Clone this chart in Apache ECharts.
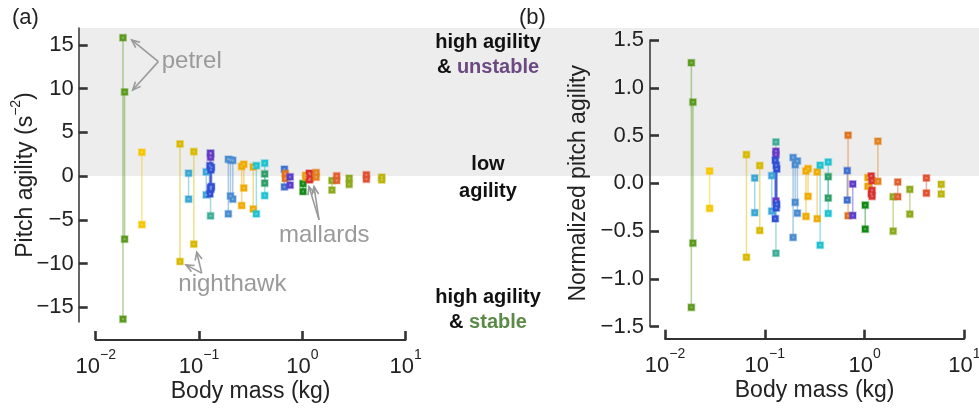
<!DOCTYPE html>
<html>
<head>
<meta charset="utf-8">
<script src="https://cdn.jsdelivr.net/npm/echarts@6/dist/echarts.min.js"></script>
<style>
  html, body { margin: 0; padding: 0; background: #fff; }
  #chart { width: 979px; height: 410px; }
</style>
</head>
<body>
<div id="chart"></div>
<script>
// Body mass of each bird group (kg)
const massKg = [0.01837, 0.01905, 0.0280, 0.0655, 0.0891, 0.0793, 0.1175, 0.1294, 0.1294, 0.1274,
  0.1303, 0.1318, 0.1923, 0.2018, 0.2123, 0.2588, 0.2716, 0.335, 0.359, 0.4325,
  0.4325, 0.671, 0.684, 0.762, 1.016, 1.081, 1.167, 1.19, 1.361, 1.936,
  2.153, 2.844, 4.17, 5.875];

// Pitch agility (s^-2) for the configurations of each group
const pitchAgility = [
  [15.84, -16.37], [9.63, -7.22], [2.73, -5.55], [3.68, -9.78], [2.80, -7.79],
  [0.33, -2.64], [0.48, -2.15], [2.6, -4.55], [2.62, 2.16, -1.3], [1.20, -2.04],
  [0.71, -1.50], [1.0, -1.2], [1.93, -4.32], [1.85, -2.28], [1.80, -2.64],
  [1.11, -3.37], [1.36, -1.37], [1.05, -3.77], [1.20, -4.32], [0.25, -0.81],
  [1.48, -2.23], [0.79, -1.24], [0.30, -0.28], [-0.09, -1.04], [-0.86, -1.77],
  [0.10, -0.15], [0.33, -0.43], [0.20, -0.30], [0.40, -0.13], [-0.51, -1.60],
  [0.02, -0.51], [-0.25, -0.95], [0.14, -0.35], [-0.13, -0.43]
];

// Normalized pitch agility for the same configurations
const normAgility = [
  [1.262, -1.298], [0.85, -0.626], [0.129, -0.262], [0.301, -0.773], [0.186, -0.493],
  [0.056, -0.307], [0.081, -0.291], [0.433, -0.731], [0.336, 0.301, -0.184], [0.241, -0.370],
  [0.189, -0.257], [0.150, -0.22], [0.270, -0.566], [0.196, -0.199], [0.234, -0.312],
  [0.129, -0.346], [0.154, -0.136], [0.119, -0.370], [0.189, -0.647], [0.070, -0.154],
  [0.223, -0.315], [0.133, -0.175], [0.504, -0.339], [-0.007, -0.336], [-0.228, -0.479],
  [0.060, -0.031], [0.077, -0.108], [0.028, -0.073, -0.136], [0.441, 0.021], [-0.140, -0.500],
  [0.014, -0.140], [-0.063, -0.322], [0.056, -0.102], [-0.010, -0.112]
];

// One colour per group
const groupColors = ['#5b9a1e', '#5b9a1e', '#f7c600', '#d8b900', '#d8b900',
  '#38a8d4', '#3ca6dc', '#3fae98', '#6638c8', '#3050d4',
  '#3050d4', '#3050d4', '#4a8cd0', '#4a8cd0', '#4a8cd0',
  '#f0aa00', '#f0aa00', '#eeac0a', '#20c2d2', '#2e9e68',
  '#20c2d2', '#3f6fd0', '#e0721e', '#5b3fcb', '#118a14',
  '#e8a208', '#d83232', '#d83232', '#e2821e', '#8daa1c',
  '#e06030', '#8daa1c', '#e0502e', '#bdb50c'];

const massTicks = [0.01, 0.1, 1, 10];
const rawTicks = [-15, -10, -5, 0, 5, 10, 15];
const rawRange = [-16.7, 16.95];
const normRange = [-1.5, 1.5];

// Annotation anchors in data units of the left panel: label position, arrow start, arrow tips
const annotations = [
  { text: 'petrel', label: [0.0436, 13.1], from: [0.0404, 13.1], tips: [[0.0223, 15.58], [0.0228, 9.86]] },
  { text: 'nighthawk', label: [0.0631, -12.44], from: [0.1062, -11.11], tips: [[0.0748, -10.16], [0.0951, -8.70]] },
  { text: 'mallards', label: [0.594, -6.73], from: [1.451, -5.01], tips: [[1.161, -1.20], [1.298, -1.20]] }
];

const FONT = '"Liberation Sans", Arial, Helvetica, sans-serif';
const INK = '#222';
const AXIS = '#333';

function minus(s) { return String(s).replace('-', '\u2212'); }
function rgba(hex, a) {
  const n = parseInt(hex.slice(1), 16);
  return 'rgba(' + (n >> 16 & 255) + ',' + (n >> 8 & 255) + ',' + (n & 255) + ',' + a + ')';
}

const powLabel = {
  formatter: v => '{b|10}{s|' + minus(Math.round(Math.log10(v))) + '}',
  rich: {
    b: { fontFamily: FONT, fontSize: 22, color: INK, lineHeight: 30, verticalAlign: 'bottom' },
    s: { fontFamily: FONT, fontSize: 14, color: INK, lineHeight: 14, verticalAlign: 'top' }
  }
};

function xAxisFor(gridIndex, offset) {
  return {
    type: 'log', logBase: 10, gridIndex, min: 0.01, max: 10, offset, position: 'bottom',
    axisLine: { show: true, onZero: false, lineStyle: { color: AXIS, width: 1.8 } },
    axisTick: { show: true, inside: true, length: 9, lineStyle: { color: AXIS, width: 2.6 } },
    minorTick: { show: false },
    splitLine: { show: false },
    axisLabel: Object.assign({ margin: 8, color: INK }, powLabel),
    name: 'Body mass (kg)', nameLocation: 'middle', nameGap: 40, nameMoveOverlap: false,
    nameTextStyle: { fontFamily: FONT, fontSize: 23, color: INK }
  };
}

const series = [];
function addPanel(values, axisIndex) {
  values.forEach((vals, i) => {
    const c = groupColors[i];
    const pts = vals.map(v => [massKg[i], v]).sort((a, b) => b[1] - a[1]);
    const thick = (c === '#6638c8' || c === '#3050d4');
    series.push({
      type: 'line', xAxisIndex: axisIndex, yAxisIndex: axisIndex, data: pts,
      symbol: 'rect', symbolSize: 6.5, showSymbol: true, animation: false,
      lineStyle: { color: c, width: thick ? 2.2 : 1.5, opacity: 0.45 },
      itemStyle: { color: c, borderColor: rgba(c, 0.35), borderWidth: 1.6 },
      emphasis: { disabled: true }, silent: true, z: 3
    });
    series.push({
      type: 'scatter', xAxisIndex: axisIndex, yAxisIndex: axisIndex, data: pts,
      symbol: 'rect', symbolSize: 2, animation: false,
      itemStyle: { color: 'rgba(255,255,255,0.35)' }, silent: true, z: 4
    });
  });
}
addPanel(pitchAgility, 0);
addPanel(normAgility, 1);

const option = {
  backgroundColor: '#fff',
  animation: false,
  grid: [
    { left: 95.7, top: 28, width: 309.9, height: 294, containLabel: false, outerBoundsMode: 'none' },
    { left: 665, top: 40, width: 299.3, height: 286.7, containLabel: false, outerBoundsMode: 'none' }
  ],
  xAxis: [xAxisFor(0, 18), xAxisFor(1, 12)],
  yAxis: [
    {
      type: 'value', gridIndex: 0, min: rawRange[0], max: rawRange[1], offset: 17, position: 'left',
      axisLine: { show: true, onZero: false, lineStyle: { color: AXIS, width: 1.5 } },
      axisTick: { show: true, inside: true, length: 9, lineStyle: { color: AXIS, width: 2.6 }, customValues: rawTicks },
      splitLine: { show: false },
      axisLabel: { customValues: rawTicks, formatter: v => minus(v), fontFamily: FONT, fontSize: 22, color: INK, margin: 5 },
      name: '{n|Pitch agility (s}{s|\u22122}{n|)}', nameLocation: 'middle', nameGap: 42, nameMoveOverlap: false,
      nameTextStyle: {
        fontFamily: FONT, fontSize: 23, color: INK,
        rich: {
          n: { fontFamily: FONT, fontSize: 23, color: INK, lineHeight: 28, verticalAlign: 'bottom' },
          s: { fontFamily: FONT, fontSize: 14, color: INK, lineHeight: 14, verticalAlign: 'top' }
        }
      }
    },
    {
      type: 'value', gridIndex: 1, min: normRange[0], max: normRange[1], interval: 0.5, offset: 15, position: 'left',
      axisLine: { show: true, onZero: false, lineStyle: { color: AXIS, width: 1.5 } },
      axisTick: { show: true, inside: true, length: 9, lineStyle: { color: AXIS, width: 2.6 } },
      splitLine: { show: false },
      axisLabel: { formatter: v => minus(v.toFixed(1)), fontFamily: FONT, fontSize: 22, color: INK, margin: 6 },
      name: 'Normalized pitch agility', nameLocation: 'middle', nameGap: 60, nameMoveOverlap: false,
      nameTextStyle: { fontFamily: FONT, fontSize: 23, color: INK }
    }
  ],
  series
};

const chart = echarts.init(document.getElementById('chart'));
chart.setOption(option);

// Overlays: shaded "unstable" band, region labels, panel letters and annotations
const toPx = (g, p) => chart.convertToPixel({ gridIndex: g }, p);
const zeroPx = toPx(0, [0.01, 0]);
const topPx = toPx(0, [0.01, rawRange[1]]);
const bandLeft = zeroPx[0] - 17;

const elements = [
  { type: 'rect', z: -10, silent: true,
    shape: { x: bandLeft, y: topPx[1], width: 979 - bandLeft, height: zeroPx[1] - topPx[1] },
    style: { fill: '#ededed' } }
];

function txt(x, y, text, size, weight, color, align, rich) {
  return { type: 'text', x, y, z: 10, silent: true,
    style: { text, fontFamily: FONT, fontSize: size, fontWeight: weight || 'normal', fill: color || INK,
      align: align || 'center', verticalAlign: 'middle', rich } };
}

const boldRich = col => ({
  k: { fontFamily: FONT, fontSize: 20, fontWeight: 'bold', fill: '#111' },
  c: { fontFamily: FONT, fontSize: 20, fontWeight: 'bold', fill: col }
});
elements.push(txt(488, 42, 'high agility', 20, 'bold', '#111'));
elements.push(txt(488, 67, '{k|& }{c|unstable}', 20, 'bold', '#111', 'center', boldRich('#6a4a80')));
elements.push(txt(488, 164, 'low', 20, 'bold', '#111'));
elements.push(txt(488, 191, 'agility', 20, 'bold', '#111'));
elements.push(txt(488, 297, 'high agility', 20, 'bold', '#111'));
elements.push(txt(488, 322, '{k|& }{c|stable}', 20, 'bold', '#111', 'center', boldRich('#5a8a46')));
elements.push(txt(12, 18, '(a)', 22, 'normal', INK, 'left'));
elements.push(txt(519, 18, '(b)', 22, 'normal', INK, 'left'));

const GREY = '#9a9a9a';
annotations.forEach(a => {
  const lp = toPx(0, a.label);
  elements.push(txt(lp[0], lp[1], a.text, 24, 'normal', GREY, 'left'));
  const s = toPx(0, a.from);
  a.tips.forEach(t => {
    const e = toPx(0, t);
    const dx = e[0] - s[0], dy = e[1] - s[1];
    const L = Math.hypot(dx, dy), ux = dx / L, uy = dy / L;
    const hl = 8, hw = 3.5;
    elements.push({ type: 'line', z: 10, silent: true,
      shape: { x1: s[0], y1: s[1], x2: e[0], y2: e[1] },
      style: { stroke: GREY, lineWidth: 1.6 } });
    elements.push({ type: 'polyline', z: 10, silent: true,
      shape: { points: [
        [e[0] - ux * hl - uy * hw, e[1] - uy * hl + ux * hw],
        [e[0], e[1]],
        [e[0] - ux * hl + uy * hw, e[1] - uy * hl - ux * hw]
      ] },
      style: { stroke: GREY, lineWidth: 1.6, fill: null } });
  });
});

chart.setOption({ graphic: { elements } });
</script>
</body>
</html>
